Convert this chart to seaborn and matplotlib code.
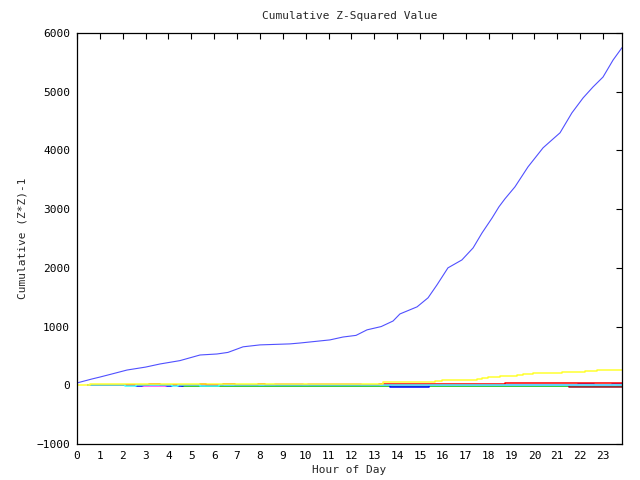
import matplotlib
matplotlib.use("Agg")
import matplotlib.pyplot as plt
import seaborn as sns
import pandas as pd

# ---- data (hour of day, cumulative value) ----
main_hours = [0, 0.66, 1.0, 1.5, 2.19, 3.0, 3.63, 4.5, 5.38, 6.12, 6.6, 7.26, 8.0,
              9.31, 9.75, 11.06, 11.63, 12.2, 12.68, 13.3, 13.82, 14.12, 14.87,
              15.35, 15.74, 16.22, 16.83, 17.32, 17.71, 18.15, 18.45, 18.71, 19.15,
              19.72, 20.38, 20.77, 21.12, 21.64, 22.13, 22.56, 23.0, 23.44, 23.83]
main_values = [40, 108, 140, 190, 260, 310, 363, 420, 516, 533, 560, 655, 688,
               705, 720, 773, 822, 850, 944, 1000, 1095, 1215, 1336,
               1490, 1710, 2000, 2135, 2340, 2595, 2850, 3040, 3175, 3380,
               3720, 4045, 4180, 4300, 4640, 4895, 5080, 5250, 5540, 5750]

yellow_hours = [0, 0.55, 2.6, 13.4, 15.65, 15.94, 17.48, 17.7, 17.98, 18.5, 19.23,
                19.52, 19.96, 21.2, 22.22, 22.73, 23.83]
yellow_values = [5, 20, 30, 50, 73, 90, 102, 119, 141, 158, 175,
                 192, 210, 221, 238, 255, 255]

green_hours = [0.5, 4.6, 23.83]
green_values = [5, -12, -12]

sienna_hours = [0.5, 21.5, 23.83]
sienna_values = [5, -34, -34]

blue_hours = [0.5, 2.6, 2.9, 3.9, 4.15, 4.4, 4.65, 13.7, 15.4, 21.9, 22.6, 23.4, 23.83]
blue_values = [5, -12, 5, -12, 5, -12, 5, -25, 5, 17, 5, 17, 17]

magenta_hours = [0.5, 2.9, 3.9, 5.4, 6.1, 8.66, 9.9, 10.1, 12.4, 23.83]
magenta_values = [5, -12, 5, 5, 5, 17, 5, 17, 5, 5]

red_hours = [0.5, 3.15, 3.63, 5.4, 5.64, 6.4, 6.9, 7.9, 8.2, 13.2, 18.7, 23.83]
red_values = [5, 17, 5, 17, 5, 17, 5, 17, 5, 17, 32, 32]

cyan_hours = [0.5, 2.1, 2.6, 4.15, 4.4, 5.4, 6.2, 23.83]
cyan_values = [5, -7, 5, -10, 5, -5, 5, 5]

series = [
    ("green", green_hours, green_values, "#00c000", "steps-post", 1.1),
    ("sienna", sienna_hours, sienna_values, "#a0102a", "steps-post", 1.1),
    ("blue", blue_hours, blue_values, "#0000ff", "steps-post", 1.1),
    ("magenta", magenta_hours, magenta_values, "#ff40ff", "steps-post", 1.1),
    ("red", red_hours, red_values, "#ff0000", "steps-post", 1.1),
    ("cyan", cyan_hours, cyan_values, "#40ffff", "steps-post", 1.1),
    ("yellow", yellow_hours, yellow_values, "#ffff30", "steps-post", 1.1),
    ("main", main_hours, main_values, "#5050ff", "default", 0.8),
]

sns.set_style("white")
plt.rcParams["font.family"] = ["DejaVu Sans Mono"]

fig = plt.figure(figsize=(6.4, 4.8), dpi=100)
ax = fig.add_axes([77 / 640, 36 / 480, 545 / 640, 411 / 480])

for name, h, v, col, ds, lw in series:
    df = pd.DataFrame({"hour": h, "value": v})
    sns.lineplot(data=df, x="hour", y="value", ax=ax, color=col, linewidth=lw,
                 drawstyle=ds, sort=False, estimator=None, legend=False)

ax.set_xlim(0, 23.83)
ax.set_ylim(-1000, 6000)
ax.set_xticks(range(0, 24))
ax.set_yticks(range(-1000, 6001, 1000))
ax.tick_params(direction="in", top=True, right=True, length=4.5, width=0.8,
               labelsize=8, pad=5, colors="black")
for s in ax.spines.values():
    s.set_color("black")
    s.set_linewidth(0.9)

ax.set_xlabel("")
ax.set_ylabel("")
fig.text(349.5 / 640, 1 - 470 / 480, "Hour of Day", fontsize=8,
         ha="center", va="center")
fig.text(23 / 640, 1 - 238.5 / 480, "Cumulative (Z*Z)-1", fontsize=8,
         ha="center", va="center", rotation=90)
fig.text(349.5 / 640, 1 - 16 / 480, "Cumulative Z-Squared Value", fontsize=8,
         ha="center", va="center")

fig.savefig("out.png", dpi=100)
